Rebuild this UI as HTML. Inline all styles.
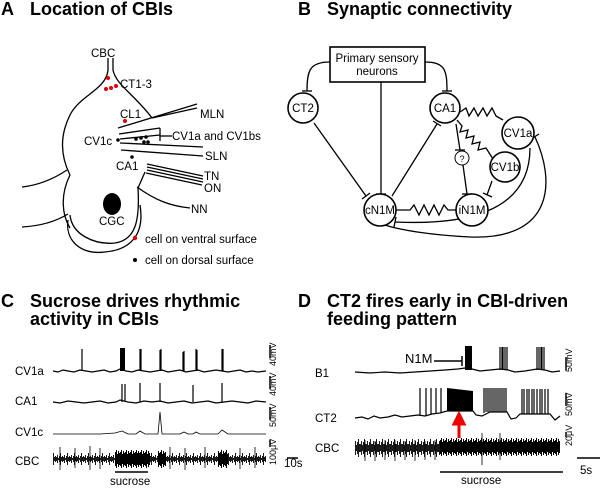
<!DOCTYPE html>
<html><head><meta charset="utf-8"><style>
html,body{margin:0;padding:0;background:#fff}
svg{display:block;font-family:"Liberation Sans",Arial,sans-serif}
.t{font-weight:bold;font-size:18px}
.l{font-size:11.5px}
</style></head><body>
<svg width="600" height="488" viewBox="0 0 600 488" xmlns="http://www.w3.org/2000/svg">
<defs>
<pattern id="n1" x="0" y="452" width="7" height="14" patternUnits="userSpaceOnUse">
<path d="M0.5,5 V9 M1.5,3 V11 M2.5,6 V8 M3.5,4 V10 M4.5,1 V13 M5.5,5 V9 M6.5,4 V10" stroke="#000" stroke-width="0.9"/>
</pattern>
<pattern id="n2a" x="0" y="449" width="5" height="20" patternUnits="userSpaceOnUse">
<path d="M0.5,3 V17 M1.5,1 V19 M2.5,5 V15 M3.5,2 V18 M4.5,4 V16" stroke="#000" stroke-width="1"/>
</pattern>
<pattern id="n2c" x="0" y="437" width="5" height="20" patternUnits="userSpaceOnUse">
<path d="M0.5,3 V17 M1.5,1 V19 M2.5,5 V15 M3.5,2 V18 M4.5,4 V16" stroke="#000" stroke-width="1"/>
</pattern>
<pattern id="n3" x="0" y="438" width="6" height="20" patternUnits="userSpaceOnUse">
<path d="M0.5,6 V14 M1.5,3 V17 M2.5,7 V13 M3.5,4 V16 M4.5,1 V19 M5.5,6 V14" stroke="#000" stroke-width="0.9"/>
</pattern>
</defs>
<g class="t">
<text x="1" y="15">A</text><text x="30" y="15">Location of CBIs</text>
<text x="298" y="15">B</text><text x="327" y="15">Synaptic connectivity</text>
<text x="1" y="307">C</text><text x="30" y="307">Sucrose drives rhythmic</text><text x="30" y="325">activity in CBIs</text>
<text x="298" y="307">D</text><text x="327" y="307">CT2 fires early in CBI-driven</text><text x="327" y="325">feeding pattern</text>
</g>
<!-- Panel A -->
<g fill="none" stroke="#000" stroke-width="1.3">
<path d="M108,58 L108,70 C106,90 80,95 70,115 C60,135 60,155 70,175 C60,195 62,215 70,228"/>
<path d="M113,58 L113,70 C116,85 135,95 152,118"/>
<path d="M22,187 C40,185 55,178 67,170"/>
<path d="M22,227 C40,226 55,222 68,214"/>
<path d="M70,215 C72,235 95,245 115,243 C135,240 140,222 138,188 L145,172"/>
<path d="M68,220 C65,240 80,255 105,252 C130,250 145,235 140,205"/>
<path d="M118,128 L197,104"/><path d="M152,118 L197,108"/>
<path d="M119,134 L160,128"/><path d="M120,139 L160,135"/><path d="M160,128 L160,141"/><path d="M160,136 L172,136"/>
<path d="M120,143 L203,147"/><path d="M121,150 L203,156"/>
<path d="M147,164 L203,176"/><path d="M147,167 L203,179"/><path d="M147,170 L203,182"/><path d="M146,173 L202,185"/>
<path d="M137,187 C155,200 170,206 190,208"/>
</g>
<ellipse cx="112" cy="204" rx="9" ry="11" fill="#000"/>
<g fill="#d00"><circle cx="108" cy="78" r="2"/><circle cx="106" cy="89" r="2"/><circle cx="111" cy="88" r="2"/><circle cx="116" cy="86" r="2"/><circle cx="125" cy="121" r="2"/><circle cx="135" cy="238" r="2.2"/></g>
<g fill="#000"><circle cx="118" cy="140" r="1.8"/><circle cx="136" cy="139" r="1.8"/><circle cx="141" cy="138" r="1.8"/><circle cx="146" cy="137" r="1.8"/><circle cx="144" cy="142" r="1.8"/><circle cx="148" cy="142" r="1.8"/><circle cx="132" cy="157" r="1.8"/><circle cx="135" cy="260" r="2"/></g>
<g class="l">
<text x="91" y="57">CBC</text><text x="120" y="88">CT1-3</text><text x="120" y="118">CL1</text>
<text x="84" y="145">CV1c</text><text x="172" y="140">CV1a and CV1bs</text><text x="116" y="170">CA1</text>
<text x="200" y="118">MLN</text><text x="205" y="160">SLN</text><text x="204" y="180">TN</text><text x="204" y="192">ON</text><text x="191" y="213">NN</text>
<text x="99" y="225">CGC</text><text x="145" y="243">cell on ventral surface</text><text x="145" y="264">cell on dorsal surface</text>
</g>
<!-- Panel B -->
<g fill="none" stroke="#000" stroke-width="1.3">
<rect x="330" y="47" width="95" height="35" stroke-width="1.6"/>
<path d="M330,62 C310,62 307,70 307,91"/><path d="M302,91 L312,91"/>
<path d="M425,62 C445,62 447,70 447,91"/><path d="M442,91 L452,91"/>
<path d="M381,82 L381,194"/><path d="M376,194 L386,194"/>
<path d="M314,123 L366,196"/><path d="M362,199 L370,193"/>
<path d="M392,196 L437,124"/><path d="M433,121 L441,126"/>
<path d="M456,124 L460,150"/><path d="M455,150 L465,150"/>
<path d="M463,165 L467,194"/><path d="M462,194 L472,194"/>
<path d="M492,181 L487,195"/><path d="M483,193 L492,197"/>
<path d="M396,210 L410,210 l4,-5 l5,10 l5,-10 l5,10 l5,-10 l5,10 l5,-10 l4,5 L457,210"/>
<path d="M460,112 l6,-4 l3,8 l5,-8 l4,8 l5,-8 l4,8 l5,-8 l4,8 l7,4"/>
<path d="M457,120 l5,6 l-2,6 l8,-2 l-2,8 l8,-2 l-2,8 l8,-2 l-2,8 l8,-2 l7,11"/>
<path d="M530,148 C530,215 460,225 395,222"/><path d="M396,217 L394,227"/>
<path d="M535,137 C555,180 555,240 470,237 C430,235 400,230 385,225"/><path d="M531,139 L539,134"/>
</g>
<g fill="#fff" stroke="#000" stroke-width="1.6">
<circle cx="303" cy="108" r="15"/><circle cx="445" cy="108" r="15"/><circle cx="518" cy="133" r="16"/>
<circle cx="505" cy="167" r="15"/><circle cx="380" cy="210" r="16"/><circle cx="472" cy="210" r="16"/>
<circle cx="462" cy="158" r="7" stroke-width="1"/>
</g>
<g class="l" text-anchor="middle">
<text x="377" y="62">Primary sensory</text><text x="377" y="75">neurons</text>
<text x="303" y="112">CT2</text><text x="445" y="112">CA1</text><text x="518" y="137">CV1a</text><text x="505" y="171">CV1b</text>
<text x="380" y="214">cN1M</text><text x="472" y="214">iN1M</text><text x="462" y="162" font-size="9">?</text>
</g>
<!-- Labels C/D -->
<g class="l"><text x="15" y="375">CV1a</text><text x="15" y="405">CA1</text><text x="15" y="436">CV1c</text><text x="15" y="465">CBC</text>
<text x="110" y="485">sucrose</text><text x="284" y="467">10s</text>
<text x="315" y="377">B1</text><text x="315" y="422">CT2</text><text x="315" y="452">CBC</text><text x="405" y="363" font-size="13">N1M</text>
<text x="461" y="484">sucrose</text><text x="580" y="474">5s</text></g>
<g class="l">
<text transform="translate(276,366) rotate(-90)" font-size="9">40mV</text>
<text transform="translate(276,396) rotate(-90)" font-size="9">40mV</text>
<text transform="translate(276,427) rotate(-90)" font-size="9">50mV</text>
<text transform="translate(276,465) rotate(-90)" font-size="9">100μV</text>
<text transform="translate(572,372) rotate(-90)" font-size="9">50mV</text>
<text transform="translate(572,416) rotate(-90)" font-size="9">50mV</text>
<text transform="translate(572,446) rotate(-90)" font-size="9">20μV</text>
</g>
<g stroke="#000" stroke-width="1.5" fill="none">
<path d="M270,345 V358 M270,376 V389 M270,407 V420 M270,440 V447 M287,458 H298 M115,472 H148"/>
<path d="M566,357 V370 M566,393 V406 M566,432 V437 M577,458 H600 M440,472 H563"/>
<path d="M434,361 H462 M462,356 V366"/>
</g>
<!-- Traces C -->
<g fill="none" stroke="#000" stroke-width="1.2">
<path d="M53,371 L58,372 L63,370 L68,371 L74,372 L80,370 L86,371 L92,372 L98,371 L104,370 L110,372 L116,371 L120,369 L126,371 L132,372 L138,370 L144,371 L150,372 L156,371 L162,370 L168,372 L174,371 L180,370 L186,372 L192,371 L198,370 L204,372 L210,371 L216,370 L222,371 L228,372 L234,371 L240,370 L246,372 L252,371 L258,372 L266,371"/>
<path d="M82,371 V349 M140,371 V349 M141,371 V349 M160,371 V350 M161,371 V349 M183,371 V352 M184,371 V351 M196,371 V349 M197,371 V350 M222,371 V349 M223,371 V349"/>
<path d="M53,402 L60,403 L68,401 L76,402 L84,403 L92,402 L100,401 L108,403 L116,402 L120,400 L128,402 L136,403 L144,401 L152,402 L160,401 L168,403 L176,402 L184,401 L192,403 L200,402 L208,401 L216,403 L224,402 L232,401 L240,402 L248,403 L256,401 L266,402"/>
<path d="M122,402 V384 M125,402 V384 M140,402 V383 M160,402 V383 M193,402 V385 M222,402 V383"/>
<path stroke-width="0.8" d="M53,434 L100,434 L115,433 L122,431 L128,434 L136,434 L140,431 L145,434 L158,434 L160,412 L162,434 L180,434 L184,432 L188,434 L193,434 L196,432 L200,434 L218,434 L222,430 L228,434 L266,434"/>
</g>
<rect x="120" y="348" width="5" height="23" fill="#000"/>
<rect x="53" y="452" width="213" height="14" fill="url(#n1)"/>
<rect x="115" y="449" width="35" height="20" fill="url(#n2a)"/>
<rect x="158" y="449" width="8" height="20" fill="url(#n2a)"/>
<rect x="218" y="449" width="10" height="20" fill="url(#n2a)"/>
<path stroke="#000" stroke-width="0.8" d="M60,447 V470 M75,448 V468 M90,446 V470 M100,448 V469 M170,447 V469 M185,448 V470 M205,447 V468 M240,448 V469 M255,447 V468"/>
<!-- Traces D -->
<g fill="none" stroke="#000" stroke-width="1.2">
<path d="M355,372 L370,373 L385,372 L400,373 L415,372 L430,371 L445,370 L458,369 L465,368 L472,369 L480,371 L490,370 L500,369 L508,370 L515,372 L525,371 L537,369 L545,370 L552,372 L560,371"/>
<path d="M500,370 V347 M502,370 V347 M503,370 V347 M505,370 V347 M507,370 V347 M537,370 V347 M539,370 V347 M541,370 V347 M542,370 V347 M544,370 V347"/>
<path d="M355,418 L362,417 L368,419 L374,416 L380,418 L388,417 L395,415 L402,417 L410,416 L418,415 L425,416 L432,414 L440,413 L447,411 L473,411 L476,415 L482,416 L490,412 L507,412 L511,419 L516,418 L520,414 L550,414 L555,420 L560,416"/>
<path d="M420,416 V388 M426,416 V388 M431,415 V388 M436,414 V388 M441,413 V388"/>
<path d="M484,413 V388 M486,412 V388 M488,412 V388 M490,412 V388 M492,412 V388 M494,412 V388 M496,412 V388 M498,412 V388 M500,412 V388 M502,412 V388 M504,412 V388 M506,412 V388"/>
<path d="M522,414 V389 M524,414 V389 M527,414 V389 M529,414 V389 M532,414 V389 M534,414 V389 M537,414 V389 M540,414 V389 M542,414 V389 M545,414 V389 M548,414 V389"/>
</g>
<rect x="465" y="346" width="7" height="24" fill="#000"/>
<path d="M447,388 L473,391 L473,411 L447,411 Z" fill="#000"/>
<rect x="355" y="438" width="85" height="20" fill="url(#n3)"/>
<rect x="440" y="437" width="120" height="20" fill="url(#n2c)"/>
<path stroke="#000" stroke-width="0.8" d="M365,440 V461 M375,441 V461 M385,440 V460 M395,440 V461 M405,441 V460 M415,440 V461 M425,441 V460 M435,440 V460 M482,433 V456 M500,433 V460 M482,446 V465"/>
<path d="M459,438 V422 M454,424 L459,414 L464,424 Z" stroke="#e00" stroke-width="3" fill="#e00"/>
</svg>
</body></html>
